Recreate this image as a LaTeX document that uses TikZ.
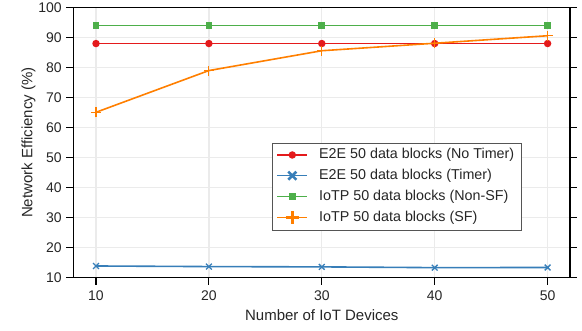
\documentclass[tikz,border=0pt]{standalone}
\usepackage{fontspec}
\setmainfont{Liberation Sans}
\usetikzlibrary{shapes.misc,calc}
\definecolor{sred}{HTML}{E41A1C}
\definecolor{sblue}{HTML}{377EB8}
\definecolor{sgreen}{HTML}{4DAF4A}
\definecolor{sorange}{HTML}{FF7F00}
\definecolor{gridc}{HTML}{EBEBEB}
\definecolor{txtc}{HTML}{262626}
\definecolor{legframe}{HTML}{555555}
\begin{document}
\begin{tikzpicture}[x=1pt,y=1pt,
  gridline/.style={draw=gridc, line width=1.2pt},
  axisline/.style={draw=black, line width=1.4pt},
  tickline/.style={draw=black, line width=1.1pt},
  ticklabel/.style={text=txtc, font=\fontsize{14}{16}\selectfont, inner sep=0pt},
  axislabel/.style={text=txtc, font=\fontsize{15}{18}\selectfont, inner sep=0pt},
  series/.style={draw=#1, line width=1.6pt},
  flatseries/.style={fill=#1},
  mcirc/.style={circle, fill=#1, inner sep=0pt, minimum size=7.5pt},
  msq/.style={rectangle, fill=#1, inner sep=0pt, minimum size=6.8pt},
  mcross/.style={cross out, draw=#1, line width=1.3pt, inner sep=0pt, minimum size=4.5pt},
  mplus/.style={cross out, rotate=45, draw=#1, line width=1.1pt, inner sep=0pt, minimum size=6pt},
  lcross/.style={cross out, draw=#1, line width=2.6pt, inner sep=0pt, minimum size=5.5pt},
  lplus/.style={cross out, rotate=45, draw=#1, line width=2.6pt, inner sep=0pt, minimum size=6.5pt},
  legtext/.style={text=txtc, font=\fontsize{14.3}{16}\selectfont, anchor=west, inner sep=0pt}]
\useasboundingbox (0,0) rectangle (582,331);

% data coordinate system: x = number of devices, y = efficiency in %
\begin{scope}[x=11.29pt, y=3.002pt, shift={(-16.9pt,23.28pt)}]
  % grid
  \foreach \v in {20,30,...,90} \draw[gridline] (8,\v) -- (52,\v);
  \foreach \v in {10,20,...,50} \draw[gridline] (\v,10) -- (\v,100);

  % frame and ticks
  \draw[axisline] (8,10) rectangle (52,100);
  \foreach \v in {10,20,...,100} {
    \draw[tickline] (8,\v) -- ++(-7pt,0);
    \draw[tickline] (52,\v) -- ++(7pt,0);
    \node[ticklabel, anchor=east] (yl\v) at ([xshift=-11.5pt]8,\v) {\v};
  }
  \foreach \v in {10,20,...,50} {
    \draw[tickline] (\v,10) -- ++(0,-7pt);
    \node[ticklabel, anchor=north] (xl\v) at ([yshift=-13pt]\v,10) {\v};
  }

  % axis titles
  \node[axislabel, rotate=90, anchor=base] (ytitle) at ([xshift=-41pt]8,55) {Network Efficiency (\%)};
  \node[axislabel, anchor=base] (xtitle) at ([yshift=-43.3pt]30,10) {Number of IoT Devices};

  % E2E, no timer (constant: drawn as a thin band)
  \coordinate (r1) at (10,88);   \coordinate (r2) at (20,88);
  \coordinate (r3) at (30,88);   \coordinate (r4) at (40,88);
  \coordinate (r5) at (50,88);
  \fill[flatseries=sred] ([yshift=-0.8pt]r1) rectangle ([yshift=0.8pt]r5);
  \foreach \i in {1,...,5} \node[mcirc=sred] (rm\i) at (r\i) {};

  % E2E, timer
  \coordinate (b1) at (10,13.9); \coordinate (b2) at (20,13.7);
  \coordinate (b3) at (30,13.6); \coordinate (b4) at (40,13.35);
  \coordinate (b5) at (50,13.4);
  \draw[series=sblue] (b1) -- (b2) -- (b3) -- (b4) -- (b5);
  \foreach \i in {1,...,5} \node[mcross=sblue] (bm\i) at (b\i) {};

  % IoTP, non-SF (constant: drawn as a thin band)
  \coordinate (g1) at (10,94);   \coordinate (g2) at (20,94);
  \coordinate (g3) at (30,94);   \coordinate (g4) at (40,94);
  \coordinate (g5) at (50,94);
  \fill[flatseries=sgreen] ([yshift=-0.8pt]g1) rectangle ([yshift=0.8pt]g5);
  \foreach \i in {1,...,5} \node[msq=sgreen] (gm\i) at (g\i) {};

  % IoTP, SF
  \coordinate (o1) at (10,65.1); \coordinate (o2) at (20,79.0);
  \coordinate (o3) at (30,85.6); \coordinate (o4) at (40,88.1);
  \coordinate (o5) at (50,90.6);
  \draw[series=sorange, line join=round] (o1) -- (o2) -- (o3) -- (o4) -- (o5);
  \foreach \i in {1,...,5} \node[mplus=sorange] (om\i) at (o\i) {};
\end{scope}

% legend
\draw[draw=legframe, fill=white, line width=1pt] (272,100.3) rectangle (521,187);
\coordinate (la1) at (277.3,176);   \coordinate (lb1) at (307.3,176);
\coordinate (la2) at (277.3,155.3); \coordinate (lb2) at (307.3,155.3);
\coordinate (la3) at (277.3,134.3); \coordinate (lb3) at (307.3,134.3);
\coordinate (la4) at (277.3,113.5); \coordinate (lb4) at (307.3,113.5);
\fill[flatseries=sred] ([yshift=-0.8pt]la1) rectangle ([yshift=0.8pt]lb1);
\node[mcirc=sred] (lm1) at ($(la1)!0.5!(lb1)$) {};
\fill[flatseries=sblue] ([yshift=-0.8pt]la2) rectangle ([yshift=0.8pt]lb2);
\node[lcross=sblue] (lm2) at ($(la2)!0.5!(lb2)$) {};
\fill[flatseries=sgreen] ([yshift=-0.8pt]la3) rectangle ([yshift=0.8pt]lb3);
\node[msq=sgreen] (lm3) at ($(la3)!0.5!(lb3)$) {};
\fill[flatseries=sorange] ([yshift=-0.8pt]la4) rectangle ([yshift=0.8pt]lb4);
\node[lplus=sorange] (lm4) at ($(la4)!0.5!(lb4)$) {};
\node[legtext] (lt1) at (319,176)   {E2E 50 data blocks (No Timer)};
\node[legtext] (lt2) at (319,155.3) {E2E 50 data blocks (Timer)};
\node[legtext] (lt3) at (319,134.3) {IoTP 50 data blocks (Non-SF)};
\node[legtext] (lt4) at (319,113.5) {IoTP 50 data blocks (SF)};
\end{tikzpicture}
\end{document}
